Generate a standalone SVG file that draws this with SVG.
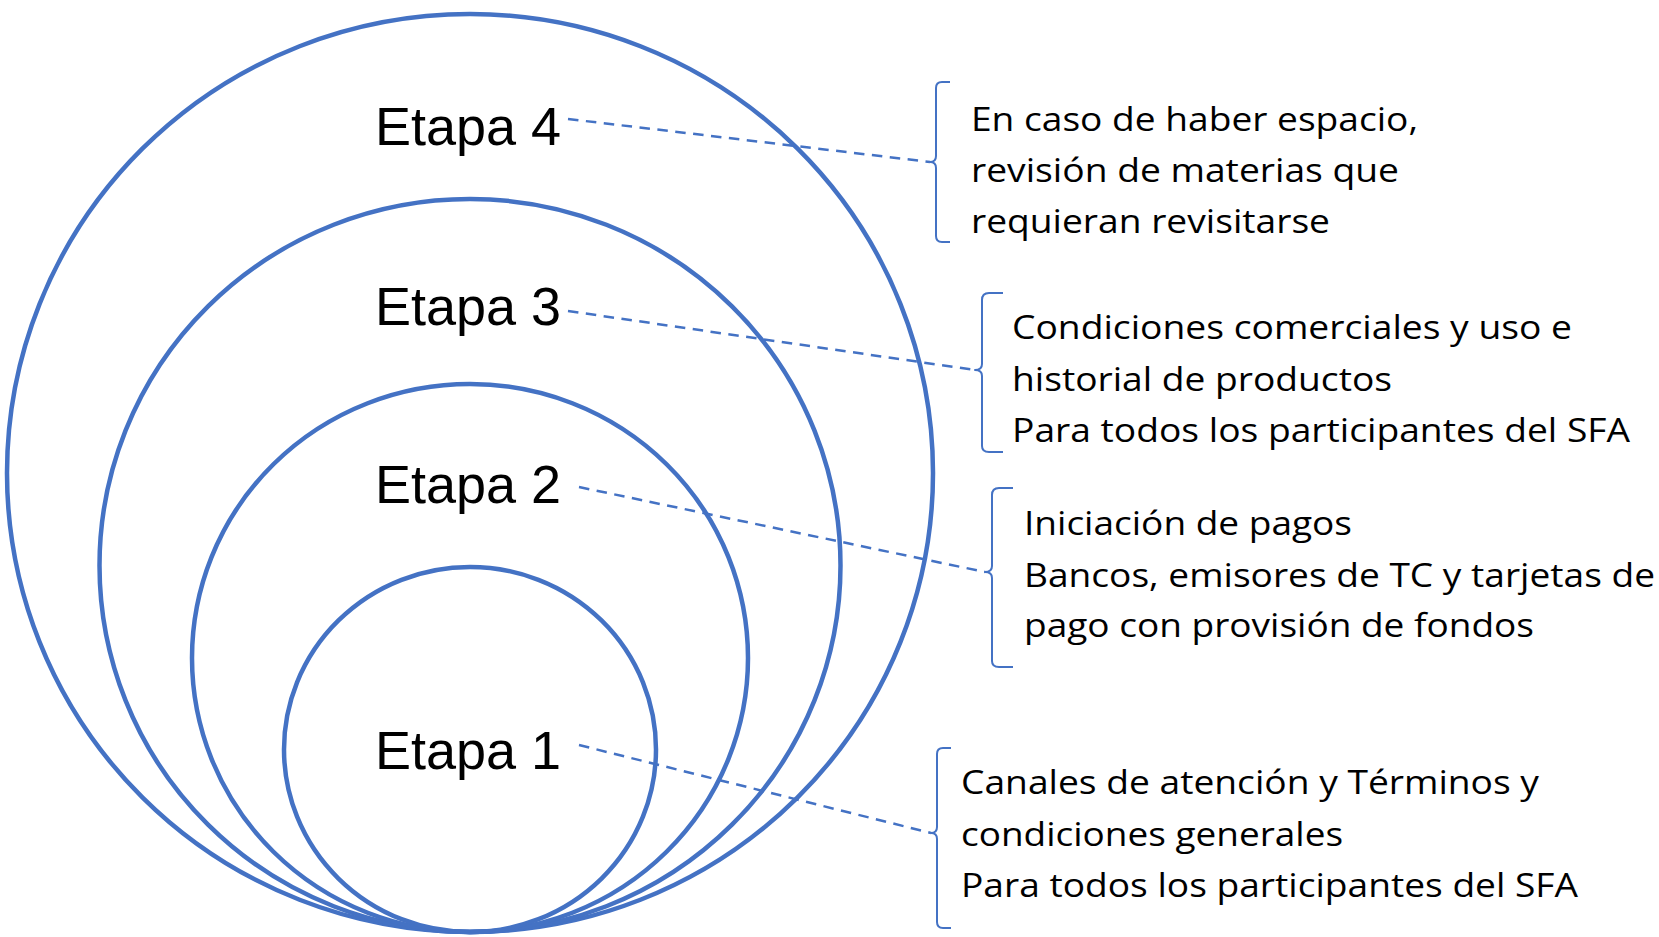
<svg xmlns="http://www.w3.org/2000/svg" width="1659" height="937" viewBox="0 0 1659 937">
<style>
.ring{fill:none;stroke:#4472C4;stroke-width:4.5}
.stage{font-family:"Liberation Sans",Arial,sans-serif;font-size:54px;fill:#000}
.desc{font-family:"Open Sans","Noto Sans",sans-serif;font-size:32.5px;fill:#000}
.brace{fill:none;stroke:#4472C4;stroke-width:2;stroke-linejoin:round}
.leader{fill:none;stroke:#4472C4;stroke-width:2.5;stroke-dasharray:10.5 7.5}
</style>
<rect width="1659" height="937" fill="#fff"/>
<g id="etapa4">
<ellipse class="ring" cx="470" cy="473" rx="463" ry="459"/>
<text class="stage" x="375" y="145">Etapa 4</text>
</g>
<g id="etapa3">
<ellipse class="ring" cx="470" cy="565.5" rx="370.5" ry="366.5"/>
<text class="stage" x="375" y="325">Etapa 3</text>
</g>
<g id="etapa2">
<ellipse class="ring" cx="470" cy="658" rx="278" ry="274"/>
<text class="stage" x="375" y="503">Etapa 2</text>
</g>
<g id="etapa1">
<ellipse class="ring" cx="470" cy="749.5" rx="186" ry="182.5"/>
<text class="stage" x="375" y="769">Etapa 1</text>
</g>
<g id="desc4">
<path class="brace" d="M950,82 L942,82 Q936,82 936,88 L936,156 Q936,162 930,162 Q936,162 936,168 L936,236 Q936,242 942,242 L950,242"/>
<text class="desc" x="971" y="131" textLength="447" lengthAdjust="spacingAndGlyphs">En caso de haber espacio,</text>
<text class="desc" x="971" y="182" textLength="428" lengthAdjust="spacingAndGlyphs">revisión de materias que</text>
<text class="desc" x="971" y="233" textLength="359" lengthAdjust="spacingAndGlyphs">requieran revisitarse</text>
</g>
<g id="desc3">
<path class="brace" d="M1003,293 L989,293 Q982,293 982,300 L982,364 Q982,370 975,370 Q982,370 982,376 L982,446 Q982,452 989,452 L1003,452"/>
<text class="desc" x="1012" y="339" textLength="560" lengthAdjust="spacingAndGlyphs">Condiciones comerciales y uso e</text>
<text class="desc" x="1012" y="391" textLength="380" lengthAdjust="spacingAndGlyphs">historial de productos</text>
<text class="desc" x="1012" y="442" textLength="618" lengthAdjust="spacingAndGlyphs">Para todos los participantes del SFA</text>
</g>
<g id="desc2">
<path class="brace" d="M1013,488 L999,488 Q992,488 992,495 L992,566 Q992,572 985,572 Q992,572 992,578 L992,661 Q992,667 999,667 L1013,667"/>
<text class="desc" x="1024" y="535" textLength="328" lengthAdjust="spacingAndGlyphs">Iniciación de pagos</text>
<text class="desc" x="1024" y="587" textLength="631" lengthAdjust="spacingAndGlyphs">Bancos, emisores de TC y tarjetas de</text>
<text class="desc" x="1024" y="637" textLength="510" lengthAdjust="spacingAndGlyphs">pago con provisión de fondos</text>
</g>
<g id="desc1">
<path class="brace" d="M951,748 L943,748 Q937,748 937,754 L937,827 Q937,833 931,833 Q937,833 937,839 L937,922 Q937,928 943,928 L951,928"/>
<text class="desc" x="961" y="794" textLength="578" lengthAdjust="spacingAndGlyphs">Canales de atención y Términos y</text>
<text class="desc" x="961" y="846" textLength="382" lengthAdjust="spacingAndGlyphs">condiciones generales</text>
<text class="desc" x="961" y="897" textLength="617" lengthAdjust="spacingAndGlyphs">Para todos los participantes del SFA</text>
</g>
<g id="connectors">
<line class="leader" x1="568" y1="119" x2="930" y2="162"/>
<line class="leader" x1="568" y1="311" x2="975" y2="370"/>
<line class="leader" x1="579" y1="487" x2="985" y2="572"/>
<line class="leader" x1="579" y1="745" x2="931" y2="833"/>
</g>
</svg>
